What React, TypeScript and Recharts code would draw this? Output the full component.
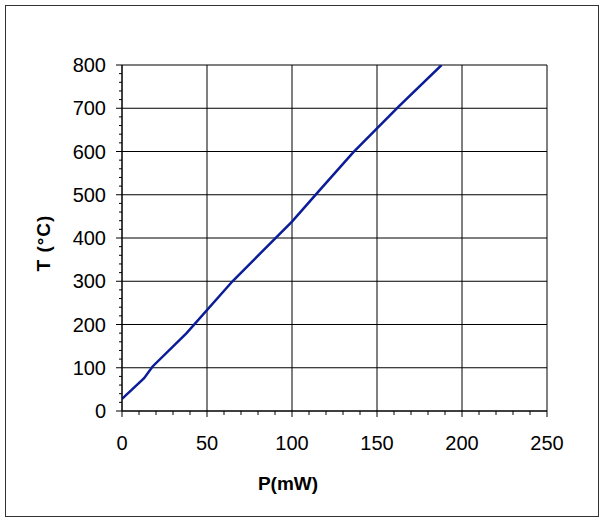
import { LineChart, Line, XAxis, YAxis, CartesianGrid } from "recharts";

const powerMw = [0, 13, 18, 38, 65, 100, 115, 136, 163, 188];
const tempC = [28, 76, 103, 180, 300, 438, 505, 598, 705, 800];

const xMajor = [0, 50, 100, 150, 200, 250];
const xTicks = [
  0, 10, 20, 30, 40, 50, 60, 70, 80, 90, 100, 110, 120, 130, 140, 150, 160, 170, 180, 190, 200,
  210, 220, 230, 240, 250
];
const yMajor = [0, 100, 200, 300, 400, 500, 600, 700, 800];
const yTicks = [
  0, 20, 40, 60, 80, 100, 120, 140, 160, 180, 200, 220, 240, 260, 280, 300, 320, 340, 360, 380,
  400, 420, 440, 460, 480, 500, 520, 540, 560, 580, 600, 620, 640, 660, 680, 700, 720, 740, 760,
  780, 800
];

const data = powerMw.map((p, i) => ({ p, t: tempC[i] }));

const font = "'Liberation Sans', Arial, sans-serif";

function XTick({ x, y, payload }: any) {
  const major = xMajor.includes(payload.value);
  return (
    <g>
      <line x1={x} x2={x} y1={y} y2={y + (major ? 6 : 4)} stroke="#000" />
      {major && (
        <text x={x} y={y + 39} textAnchor="middle" fontSize={20} fill="#000" fontFamily={font}>
          {payload.value}
        </text>
      )}
    </g>
  );
}

function YTick({ x, y, payload }: any) {
  const major = yMajor.includes(payload.value);
  return (
    <g>
      <line x1={x - (major ? 6 : 3)} x2={x} y1={y} y2={y} stroke="#000" />
      {major && (
        <text x={x - 16} y={y} dy="0.36em" textAnchor="end" fontSize={20} fill="#000" fontFamily={font}>
          {payload.value}
        </text>
      )}
    </g>
  );
}

export default function App() {
  return (
    <div style={{ position: "absolute", left: 0, top: 0, width: 604, height: 522, background: "#fff" }}>
      <div
        style={{
          position: "absolute",
          left: 5,
          top: 5,
          width: 594,
          height: 512,
          border: "1px solid #333",
          boxSizing: "border-box"
        }}
      />
      <div style={{ position: "absolute", left: 0, top: 0 }}>
        <LineChart width={604} height={522} data={data} margin={{ top: 65, right: 57, bottom: 51, left: 62 }}>
          <CartesianGrid
            stroke="#000"
            strokeWidth={1}
            horizontalValues={yMajor}
            verticalValues={xMajor}
          />
          <XAxis
            dataKey="p"
            type="number"
            domain={[0, 250]}
            ticks={xTicks}
            interval={0}
            height={60}
            tickSize={0}
            tickMargin={0}
            tickLine={false}
            axisLine={{ stroke: "#000" }}
            tick={<XTick />}
            allowDataOverflow
            label={{
              content: () => (
                <text x={288} y={490} textAnchor="middle" fontSize={19} fontWeight="bold" fill="#000" fontFamily={font}>
                  P(mW)
                </text>
              )
            }}
          />
          <YAxis
            dataKey="t"
            type="number"
            domain={[0, 800]}
            ticks={yTicks}
            interval={0}
            width={60}
            tickSize={0}
            tickMargin={0}
            tickLine={false}
            axisLine={{ stroke: "#000" }}
            tick={<YTick />}
            allowDataOverflow
            label={{
              content: () => (
                <text
                  x={43}
                  y={243}
                  textAnchor="middle"
                  dominantBaseline="central"
                  fontSize={19}
                  fontWeight="bold"
                  letterSpacing={1}
                  fill="#000"
                  fontFamily={font}
                  transform="rotate(-90, 43, 243)"
                >
                  T (°C)
                </text>
              )
            }}
          />
          <Line
            type="linear"
            dataKey="t"
            stroke="#0b1c98"
            strokeWidth={2.5}
            dot={false}
            isAnimationActive={false}
          />
        </LineChart>
      </div>
    </div>
  );
}
